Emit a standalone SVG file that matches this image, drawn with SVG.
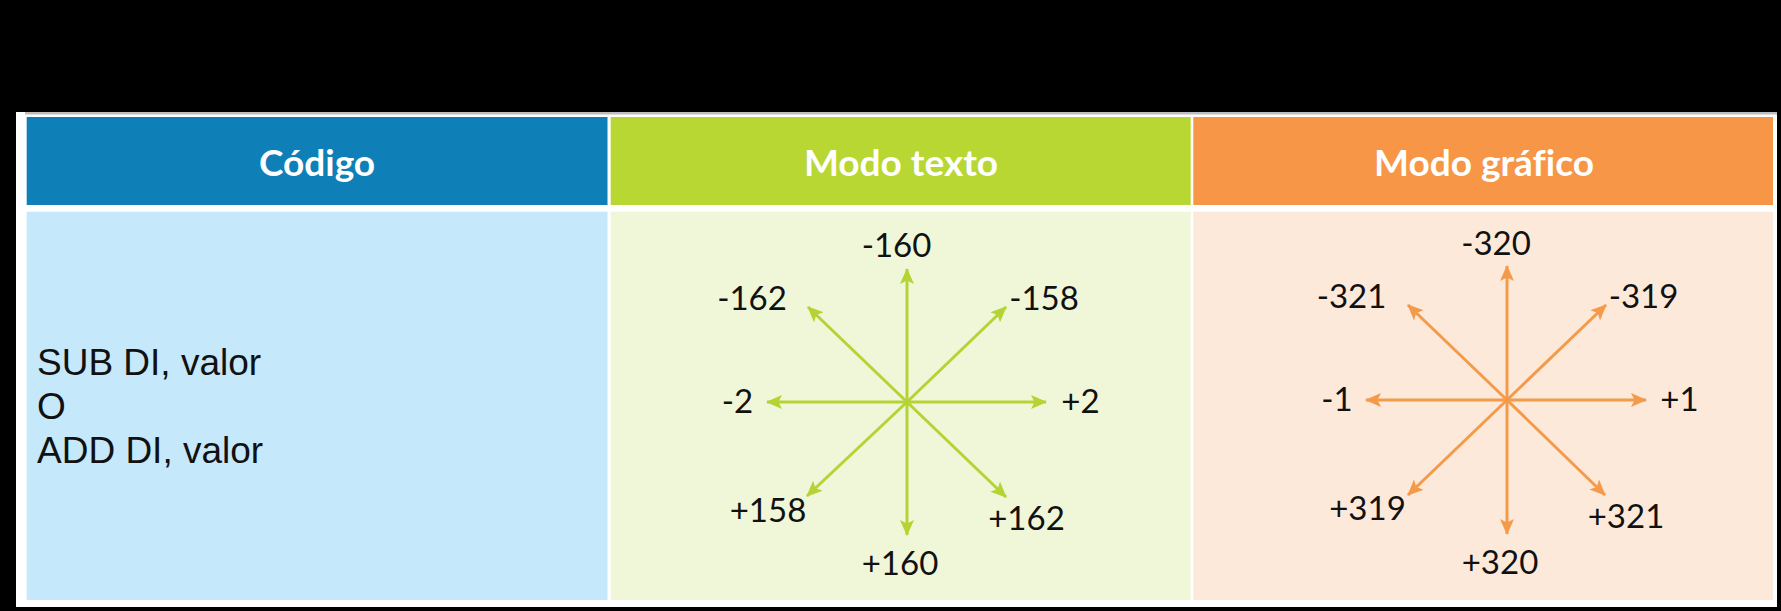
<svg xmlns="http://www.w3.org/2000/svg" width="1781" height="611" viewBox="0 0 1781 611">
  <style>
    .hdr { font-family: "Lato", "Open Sans", sans-serif; font-weight: bold; font-size: 37px; fill: #FFFFFF; text-anchor: middle; font-variant-ligatures: none; }
    .num { font-family: "Lato", "Open Sans", sans-serif; font-size: 33px; fill: #111111; text-anchor: middle; }
    .code { font-family: "Liberation Sans", Arial, sans-serif; font-size: 37px; fill: #111111; }
    .g { stroke: #B5D334; stroke-width: 3; fill: none; }
    .o { stroke: #F49A4B; stroke-width: 3; fill: none; }
  </style>
  <defs>
    <marker id="ag" viewBox="0 0 16 14" refX="15" refY="7" markerWidth="16" markerHeight="14" markerUnits="userSpaceOnUse" orient="auto">
      <path d="M0,0 L16,7 L0,14 L3.5,7 z" fill="#B5D334"/>
    </marker>
    <marker id="ao" viewBox="0 0 16 14" refX="15" refY="7" markerWidth="16" markerHeight="14" markerUnits="userSpaceOnUse" orient="auto">
      <path d="M0,0 L16,7 L0,14 L3.5,7 z" fill="#F49A4B"/>
    </marker>
  </defs>
  <rect x="0" y="0" width="1781" height="611" fill="#000000"/>
  <rect x="16" y="112" width="1761" height="495" fill="#FFFFFF"/>
  <rect x="25" y="112" width="1752" height="2.5" fill="#BDBDBD"/>

  <g id="hdr-codigo">
    <rect x="26.7" y="117" width="580.8" height="88" fill="#0F7FB8"/>
    <text class="hdr" x="317" y="176">Código</text>
  </g>
  <g id="hdr-texto">
    <rect x="610.7" y="117" width="580" height="88" fill="#B8D733"/>
    <text class="hdr" x="901" y="176">Modo texto</text>
  </g>
  <g id="hdr-grafico">
    <rect x="1193.3" y="117" width="579.7" height="88" fill="#F79646"/>
    <text class="hdr" x="1484" y="176">Modo gráfico</text>
  </g>

  <g id="body-codigo">
    <rect x="26.7" y="211.7" width="580.8" height="388.3" fill="#C5E8FA"/>
    <text class="code" x="37" y="375">SUB DI, valor</text>
    <text class="code" x="37" y="419">O</text>
    <text class="code" x="37" y="463">ADD DI, valor</text>
  </g>
  <g id="body-texto">
    <rect x="610.7" y="211.7" width="580" height="388.3" fill="#F0F6D8"/>
    <text class="num" x="896.5" y="257">-160</text>
    <text class="num" x="752" y="310">-162</text>
    <text class="num" x="1044" y="310">-158</text>
    <text class="num" x="737.5" y="413">-2</text>
    <text class="num" x="1080.5" y="413">+2</text>
    <text class="num" x="768" y="522">+158</text>
    <text class="num" x="1026.5" y="530">+162</text>
    <text class="num" x="900" y="575">+160</text>
  </g>
  <g id="body-grafico">
    <rect x="1193.3" y="211.7" width="579.7" height="388.3" fill="#FDE9DA"/>
    <text class="num" x="1496" y="255">-320</text>
    <text class="num" x="1351.5" y="308">-321</text>
    <text class="num" x="1643.5" y="308">-319</text>
    <text class="num" x="1337" y="411">-1</text>
    <text class="num" x="1679.5" y="411">+1</text>
    <text class="num" x="1367.5" y="520">+319</text>
    <text class="num" x="1626" y="528">+321</text>
    <text class="num" x="1500" y="574">+320</text>
  </g>

  <g id="connectors">
    <g class="g">
      <line x1="907" y1="402" x2="907" y2="269" marker-end="url(#ag)"/>
      <line x1="907" y1="402" x2="907" y2="535" marker-end="url(#ag)"/>
      <line x1="907" y1="402" x2="767" y2="402" marker-end="url(#ag)"/>
      <line x1="907" y1="402" x2="1046" y2="402" marker-end="url(#ag)"/>
      <line x1="907" y1="402" x2="808" y2="307" marker-end="url(#ag)"/>
      <line x1="907" y1="402" x2="1006" y2="307" marker-end="url(#ag)"/>
      <line x1="907" y1="402" x2="807" y2="496" marker-end="url(#ag)"/>
      <line x1="907" y1="402" x2="1006" y2="497" marker-end="url(#ag)"/>
    </g>
    <g class="o">
      <line x1="1507" y1="400" x2="1507" y2="266" marker-end="url(#ao)"/>
      <line x1="1507" y1="400" x2="1507" y2="534" marker-end="url(#ao)"/>
      <line x1="1507" y1="400" x2="1366" y2="400" marker-end="url(#ao)"/>
      <line x1="1507" y1="400" x2="1646" y2="400" marker-end="url(#ao)"/>
      <line x1="1507" y1="400" x2="1408" y2="305" marker-end="url(#ao)"/>
      <line x1="1507" y1="400" x2="1606" y2="305" marker-end="url(#ao)"/>
      <line x1="1507" y1="400" x2="1408" y2="495" marker-end="url(#ao)"/>
      <line x1="1507" y1="400" x2="1605" y2="495" marker-end="url(#ao)"/>
    </g>
  </g>
</svg>
